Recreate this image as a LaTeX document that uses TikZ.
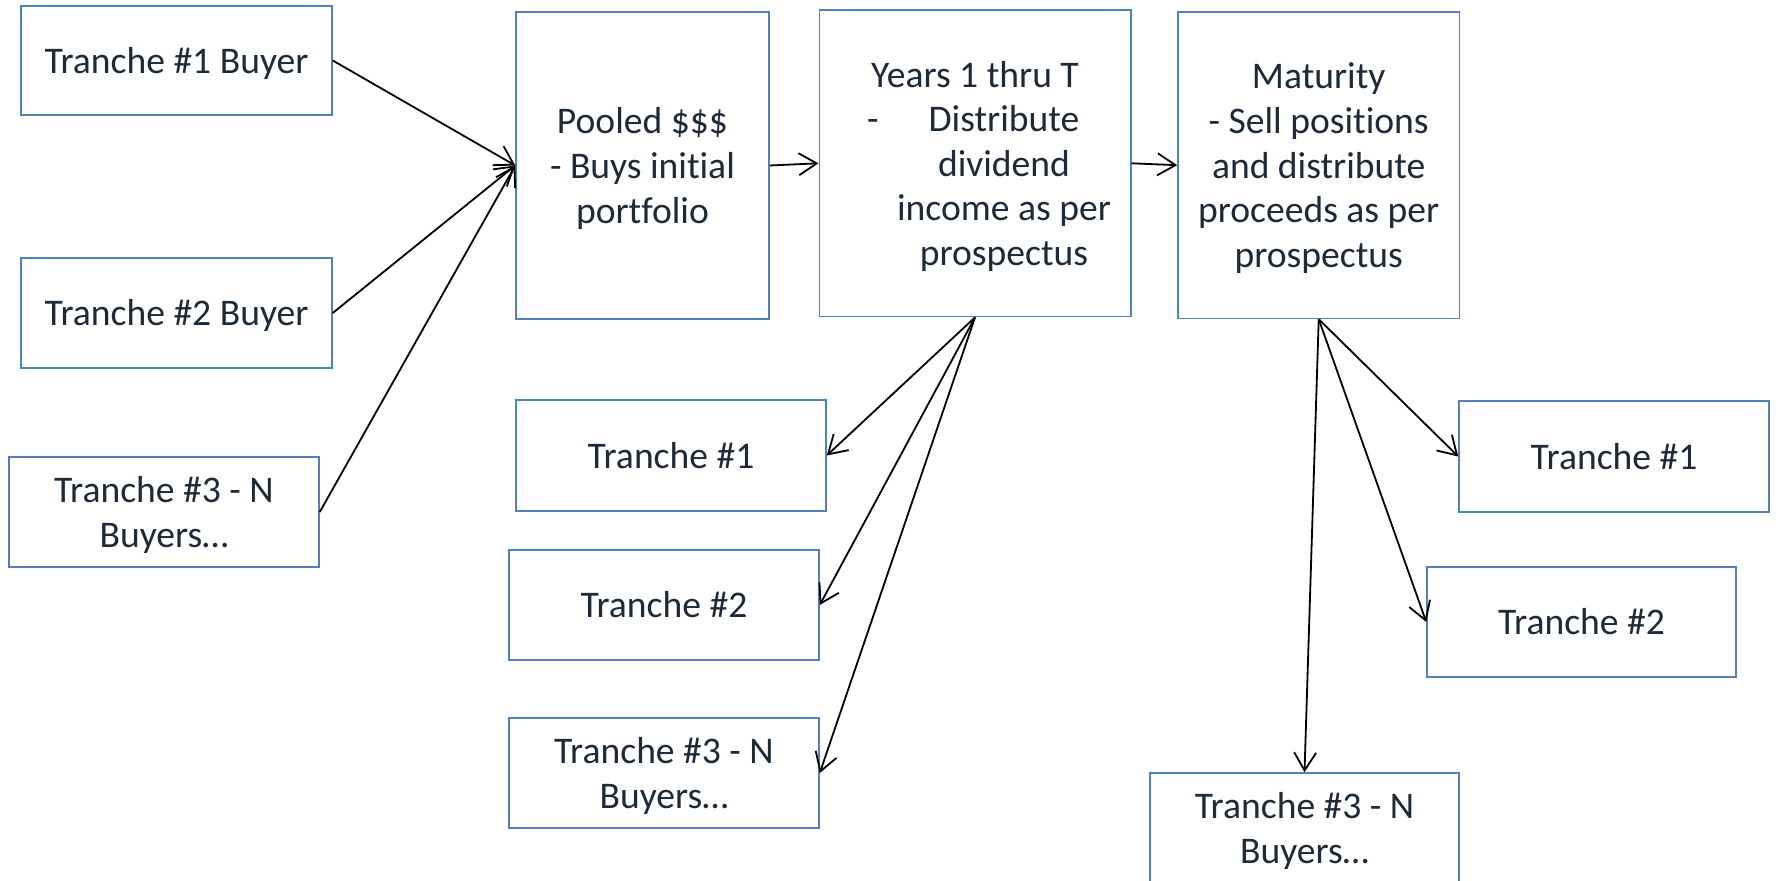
\documentclass[tikz,border=0pt]{standalone}
\usepackage{fontspec}
\setmainfont{Carlito}[Ligatures={NoCommon}]
\usetikzlibrary{arrows.meta}
\definecolor{boxblue}{HTML}{4F81BD}
\definecolor{txt}{HTML}{1C2A39}
\newcommand{\boxtext}[1]{\raisebox{-2pt}[\height][\depth]{\begin{tabular}{@{}c@{}}#1\end{tabular}}}
\begin{document}
\begin{tikzpicture}[x=0.5pt,y=-0.5pt,
  box/.style={draw=boxblue, line width=0.75pt, fill=white, inner sep=0pt,
    text=txt, font=\fontsize{18.8pt}{22.3pt}\selectfont},
  conn/.style={draw=black, line width=0.9pt, -{Straight Barb[length=9pt,width=11pt,line width=0.9pt]}}]
\useasboundingbox (0,0) rectangle (1776,881);
\fill[white] (0,0) rectangle (1776,881);
% left column
\node[box, minimum width=155.5pt, minimum height=54.5pt] (b1) at (176.5,60.5) {\boxtext{Tranche \#1 Buyer}};
\node[box, minimum width=155.5pt, minimum height=55pt] (b2) at (176.5,313) {\boxtext{Tranche \#2 Buyer}};
\node[box, minimum width=155pt, minimum height=55pt] (b3) at (164,512) {\boxtext{Tranche \#3 - N\\Buyers…}};
% top row
\node[box, minimum width=126.5pt, minimum height=153.5pt] (pool) at (642.5,165.5) {\boxtext{Pooled \$\$\$\\- Buys initial\\portfolio}};
\node[box, minimum width=155.75pt, minimum height=153.35pt] (years) at (975,163.3)
  {\boxtext{Years 1 thru T\\\hspace*{29pt}\llap{-\hspace{25pt}}Distribute\\\hspace*{29pt}dividend\\\hspace*{29pt}income as per\\\hspace*{29pt}prospectus}};
\node[box, minimum width=140.75pt, minimum height=153.25pt] (mat) at (1318.7,165.2)
  {\boxtext{Maturity\\- Sell positions\\and distribute\\proceeds as per\\prospectus}};
% middle column
\node[box, minimum width=155pt, minimum height=55.5pt] (m1) at (671,455.5) {\boxtext{Tranche \#1}};
\node[box, minimum width=155pt, minimum height=55pt] (m2) at (664,605) {\boxtext{Tranche \#2}};
\node[box, minimum width=155pt, minimum height=55pt] (m3) at (664,773) {\boxtext{Tranche \#3 - N\\Buyers…}};
% right column
\node[box, minimum width=155pt, minimum height=55.5pt] (r1) at (1614,456.5) {\boxtext{Tranche \#1}};
\node[box, minimum width=154.5pt, minimum height=55pt] (r2) at (1581.5,622) {\boxtext{Tranche \#2}};
\node[box, minimum width=154.5pt, minimum height=55pt] (r3) at (1304.5,828) {\boxtext{Tranche \#3 - N\\Buyers…}};
% connectors
\draw[conn] (b1.east) -- (pool.west);
\draw[conn] (b2.east) -- (pool.west);
\draw[conn] (b3.east) -- (pool.west);
\draw[conn] (pool.east) -- (years.west);
\draw[conn] (years.east) -- (mat.west);
\draw[conn] (years.south) -- (m1.east);
\draw[conn] (years.south) -- (m2.east);
\draw[conn] (years.south) -- (m3.east);
\draw[conn] (mat.south) -- (r1.west);
\draw[conn] (mat.south) -- (r2.west);
\draw[conn] (mat.south) -- (r3.north);
\end{tikzpicture}
\end{document}
